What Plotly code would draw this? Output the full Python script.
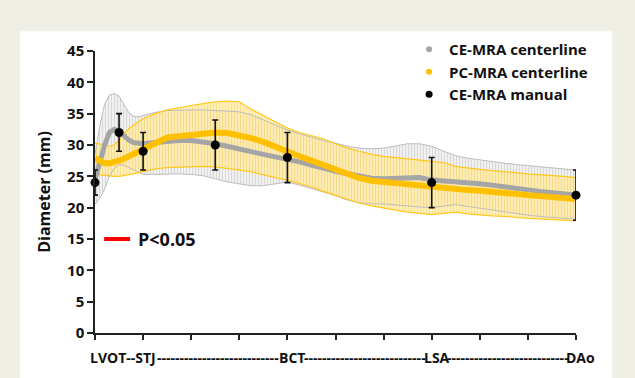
import plotly.graph_objects as go

# ---------------- data ----------------
x_cl = [0, 0.1, 0.2, 0.3, 0.4, 0.5, 0.6, 0.7, 0.8, 0.9, 1.0,
        1.25, 1.5, 1.75, 2.0, 2.25, 2.5, 2.75, 3.0, 3.25, 3.5, 3.75,
        4.0, 4.25, 4.5, 4.75, 5.0, 5.25, 5.5, 5.75, 6.0, 6.25, 6.5, 6.75,
        7.0, 7.25, 7.5, 7.75, 8.0, 8.25, 8.5, 8.75, 9.0, 9.25, 9.5, 9.75, 10.0]

ce_mean = [24.5, 27.4, 30.0, 32.0, 32.5, 32.2, 31.5, 30.8, 30.4, 30.3, 30.2,
           30.4, 30.6, 30.7, 30.7, 30.5, 30.2, 29.8, 29.3, 28.9, 28.5, 28.1,
           27.8, 27.3, 26.8, 26.2, 25.8, 25.4, 25.0, 24.7, 24.6, 24.6, 24.7, 24.8,
           24.4, 24.3, 24.2, 24.0, 23.8, 23.6, 23.3, 23.0, 22.8, 22.6, 22.4, 22.2, 22.0]
ce_upper = [28.5, 33.0, 36.5, 38.0, 38.2, 37.8, 36.5, 35.2, 34.6, 34.5, 34.7,
            35.2, 35.5, 35.6, 35.6, 35.6, 35.5, 35.4, 35.3, 34.8, 34.0, 33.2,
            32.4, 31.8, 31.2, 30.7, 30.3, 29.8, 29.5, 29.4, 29.5, 29.8, 30.2, 30.2,
            29.8, 29.0, 28.3, 27.9, 27.6, 27.3, 27.1, 26.9, 26.7, 26.5, 26.3, 26.2, 26.0]
ce_lower = [20.5, 21.5, 23.0, 25.0, 26.3, 26.8, 26.8, 26.4, 26.0, 25.6, 25.3,
            25.3, 25.4, 25.4, 25.3, 25.1, 24.6, 24.1, 23.8, 23.5, 23.5, 23.8,
            24.1, 23.6, 23.1, 22.5, 21.9, 21.2, 20.8, 20.6, 20.6, 20.4, 20.2, 20.1,
            20.0, 20.3, 20.5, 20.2, 19.9, 19.6, 19.3, 19.0, 18.8, 18.6, 18.4, 18.3, 18.2]

pc_mean = [27.9, 27.4, 27.1, 27.1, 27.2, 27.5, 27.8, 28.2, 28.6, 28.9, 29.3,
           30.4, 31.2, 31.4, 31.6, 31.9, 32.0, 31.9, 31.6, 31.1, 30.5, 29.7,
           28.8, 28.2, 27.5, 26.8, 26.2, 25.3, 24.7, 24.3, 24.1, 23.8, 23.6, 23.4,
           23.2, 23.0, 22.8, 22.8, 22.7, 22.6, 22.4, 22.2, 22.0, 21.9, 21.7, 21.6, 21.4]
pc_upper = [30.3, 30.2, 30.0, 29.8, 30.0, 30.8, 31.8, 32.6, 33.2, 33.7, 34.2,
            35.0, 35.6, 36.0, 36.3, 36.6, 36.9, 37.0, 36.9, 35.7, 34.7, 33.6,
            32.7, 32.0, 31.5, 31.0, 30.2, 29.5, 29.0, 28.5, 28.2, 28.0, 27.8, 27.6,
            27.5, 27.2, 26.6, 26.3, 26.1, 25.9, 25.8, 25.6, 25.4, 25.3, 25.1, 25.0, 24.8]
pc_lower = [25.3, 25.2, 25.1, 25.0, 25.0, 25.0, 25.1, 25.2, 25.4, 25.6, 25.8,
            26.2, 26.4, 26.5, 26.6, 26.6, 26.5, 26.3, 26.0, 25.7, 25.2, 24.8,
            24.4, 23.9, 23.3, 22.6, 22.0, 21.3, 20.7, 20.3, 19.9, 19.6, 19.3, 19.1,
            18.9, 19.1, 19.3, 19.0, 18.8, 18.7, 18.6, 18.4, 18.3, 18.2, 18.1, 18.0, 17.9]

x_manual = [0, 0.5, 1, 2.5, 4, 7, 10]
y_manual = [24, 32, 29, 30, 28, 24, 22]
err_manual = [2, 3, 3, 4, 4, 4, 4]

y_ticks = [0, 5, 10, 15, 20, 25, 30, 35, 40, 45]
x_ticks = list(range(0, 11))

# landmark labels along the x axis: (text, paper-x centre)
landmarks = [("BCT", 0.410), ("LSA", 0.712), ("DAo", 1.010)]
dash_runs = [0.256, 0.561, 0.859]

GRAY = "#a5a5a5"
GOLD = "#ffc000"
FONT = "Open Sans"

fig = go.Figure()

# gray (CE-MRA centerline) SD band
fig.add_trace(go.Scatter(x=x_cl, y=ce_lower, mode="lines", line=dict(width=0, color=GRAY),
                         showlegend=False, hoverinfo="skip"))
fig.add_trace(go.Scatter(x=x_cl, y=ce_upper, mode="lines", line=dict(width=0, color=GRAY),
                         fill="tonexty", fillcolor="rgba(215,215,215,0.5)",
                         fillpattern=dict(shape="|", size=3, solidity=0.35,
                                          fgcolor="rgba(185,185,185,0.9)",
                                          bgcolor="rgba(236,236,236,0.75)"),
                         showlegend=False, hoverinfo="skip"))
# gold (PC-MRA centerline) SD band
fig.add_trace(go.Scatter(x=x_cl, y=pc_lower, mode="lines", line=dict(width=0, color=GOLD),
                         showlegend=False, hoverinfo="skip"))
fig.add_trace(go.Scatter(x=x_cl, y=pc_upper, mode="lines", line=dict(width=0, color=GOLD),
                         fill="tonexty", fillcolor="rgba(255,225,140,0.5)",
                         fillpattern=dict(shape="|", size=3, solidity=0.4,
                                          fgcolor="rgba(255,205,70,0.85)",
                                          bgcolor="rgba(255,236,165,0.7)"),
                         showlegend=False, hoverinfo="skip"))
# band edges
for arr in (ce_upper, ce_lower):
    fig.add_trace(go.Scatter(x=x_cl, y=arr, mode="lines", line=dict(width=1, color="#bdbdbd"),
                             showlegend=False, hoverinfo="skip"))
for arr in (pc_upper, pc_lower):
    fig.add_trace(go.Scatter(x=x_cl, y=arr, mode="lines", line=dict(width=1.2, color="#ffc820"),
                             showlegend=False, hoverinfo="skip"))

# mean lines
fig.add_trace(go.Scatter(x=x_cl, y=ce_mean, mode="lines", line=dict(width=5, color=GRAY),
                         showlegend=False))
fig.add_trace(go.Scatter(x=x_cl, y=pc_mean, mode="lines", line=dict(width=6, color=GOLD),
                         showlegend=False))

# manual measurements
fig.add_trace(go.Scatter(x=x_manual, y=y_manual, mode="markers",
                         marker=dict(color="black", size=9),
                         error_y=dict(type="data", array=err_manual, color="#111111",
                                      thickness=1.6, width=3),
                         cliponaxis=False, showlegend=False))

# legend entries
legend_items = [("CE-MRA centerline", GRAY, 6), ("PC-MRA centerline", GOLD, 6),
                ("CE-MRA manual", "black", 7)]
for i, (name, col, sz) in enumerate(legend_items):
    fig.add_trace(go.Scatter(x=[None], y=[None], mode="markers", name=name,
                             legendgroup=f"g{i}",
                             marker=dict(color=col, size=sz)))

lab_font = dict(family=FONT, size=14, color="#111", weight="bold")
annotations = [
    dict(x=0.131, y=-0.087, xref="paper", yref="paper", text="LVOT--STJ", showarrow=False,
         xanchor="right", yanchor="middle", font=lab_font),
]
for name, xp in landmarks:
    annotations.append(dict(x=xp, y=-0.087, xref="paper", yref="paper", text=name, showarrow=False,
                            xanchor="center", yanchor="middle", font=lab_font))
for xp in dash_runs:
    annotations.append(dict(x=xp, y=-0.087, xref="paper", yref="paper", text="-" * 27,
                            showarrow=False, xanchor="center", yanchor="middle", font=lab_font))
annotations.append(dict(x=0.85, y=15, xref="x", yref="y", text="P<0.05", showarrow=False,
                        xanchor="left", yanchor="middle",
                        font=dict(family=FONT, size=18, color="#111", weight="bold")))

shapes = [
    dict(type="rect", xref="paper", yref="paper", x0=-0.156, x1=1.075, y0=-0.25, y1=1.070,
         fillcolor="white", line=dict(width=0), layer="below"),
    dict(type="line", xref="x", yref="y", x0=0.19, x1=0.73, y0=15, y1=15,
         line=dict(color="#ff0000", width=4)),
]

fig.update_layout(
    width=635, height=378,
    margin=dict(l=95, r=59, t=51, b=45),
    paper_bgcolor="#efefe5",
    plot_bgcolor="white",
    showlegend=True,
    legend=dict(x=0.653, y=1.064, xanchor="left", yanchor="top",
                bgcolor="rgba(0,0,0,0)", tracegroupgap=0,
                font=dict(family=FONT, size=15, color="#111", weight="bold")),
    annotations=annotations,
    shapes=shapes,
    xaxis=dict(range=[0, 10], tickvals=x_ticks, ticktext=[""] * len(x_ticks),
               ticks="outside", ticklen=5, tickwidth=1.5, tickcolor="#222",
               showline=True, linecolor="#222", linewidth=1.5,
               showgrid=False, zeroline=False, fixedrange=True),
    yaxis=dict(range=[0, 45], tickvals=y_ticks,
               ticks="outside", ticklen=6, tickwidth=1.5, tickcolor="#222",
               showline=True, linecolor="#222", linewidth=1.5,
               showgrid=False, zeroline=False,
               tickfont=dict(family=FONT, size=15, color="#111", weight="bold"),
               title=dict(text="Diameter (mm)", standoff=12,
                          font=dict(family=FONT, size=16, color="#111", weight="bold"))),
)

fig.write_html("out.html", config={"displayModeBar": False},
               post_script="document.body.style.margin='0';document.body.style.overflow='hidden';")
